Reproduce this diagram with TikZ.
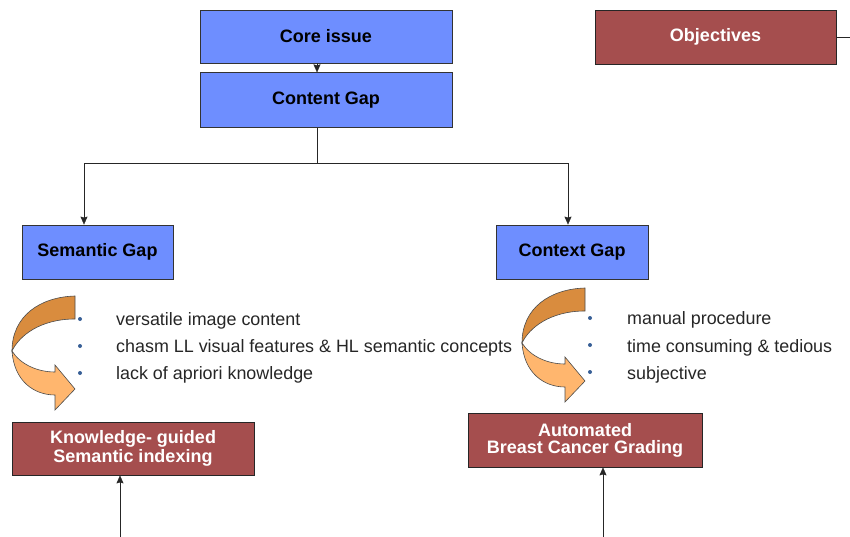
\documentclass[tikz,border=0pt]{standalone}
\usepackage{fontspec}
\setmainfont{Liberation Sans}
\usetikzlibrary{positioning,arrows.meta}
\definecolor{gapblue}{RGB}{110,142,255}
\definecolor{goalred}{RGB}{165,78,78}
\definecolor{turndark}{RGB}{217,140,62}
\definecolor{turnlight}{RGB}{255,182,110}
\definecolor{dotblue}{RGB}{55,95,150}

\begin{document}
\begin{tikzpicture}[%
		x=1pt, y=-1pt,
		>={Stealth[length=8pt,width=7pt,inset=1pt]},
		gapbox/.style={%
			draw=black!80,
			fill=gapblue,
			line width=0.8pt,
			inner sep=0pt,
			font=\fontsize{18}{19}\selectfont\bfseries
		},
		goalbox/.style={%
			draw=black!85,
			fill=goalred,
			text=white,
			line width=0.8pt,
			inner sep=0pt,
			align=center,
			font=\fontsize{18}{19}\selectfont\bfseries
		},
		bulletdot/.style={%
			circle,
			fill=dotblue,
			inner sep=0pt,
			minimum size=4pt
		},
		itemtext/.style={%
			anchor=base west,
			inner sep=0pt,
			text=black!85,
			font=\fontsize{17.9}{19}\selectfont
		},
		turnback/.style={fill=turndark, draw=black!70, line width=0.6pt},
		turnfront/.style={fill=turnlight, draw=black!70, line width=0.6pt}
		]
		\useasboundingbox (0,0) rectangle (850,537);
		
		% top boxes
		\node[gapbox, minimum width=252pt, minimum height=53pt] (core) at (326,36.5) {Core issue};
		\node[gapbox, minimum width=252pt, minimum height=55pt] (content) [below=9pt of core] {Content Gap};
		\node[goalbox, minimum width=241pt, minimum height=54pt] (objectives) at (715.5,37) {Objectives};
		\coordinate (objout) at (850,37);
		
		% the two gaps
		\node[gapbox, minimum width=151pt, minimum height=54pt] (semantic) at (97.5,252) {Semantic Gap};
		\node[gapbox, minimum width=152pt, minimum height=54pt] (context) at (572,252) {Context Gap};
		
		% bullet lists
		\node[bulletdot] (sb1) at (80,319) {};
		\node[bulletdot] (sb2) at (80,346) {};
		\node[bulletdot] (sb3) at (80,373) {};
		\node[itemtext] (st1) at (116,325) {versatile image content};
		\node[itemtext] (st2) at (116,352) {chasm LL visual features \& HL semantic concepts};
		\node[itemtext] (st3) at (116,379) {lack of apriori knowledge};
		
		\node[bulletdot] (cb1) at (590,318) {};
		\node[bulletdot] (cb2) at (590,345) {};
		\node[bulletdot] (cb3) at (590,372) {};
		\node[itemtext] (ct1) at (627,324) {manual procedure};
		\node[itemtext] (ct2) at (627,352) {time consuming \& tedious};
		\node[itemtext] (ct3) at (627,379) {subjective};
		
		% turning arrows
		\foreach \dx/\dy in {0/0, 510/-8} {
			\begin{scope}[shift={(\dx,\dy)}]
				\draw[turnback] (75,296) .. controls (40,297) and (12,316) .. (12,351)
					.. controls (19,336) and (40,319) .. (75,319) -- cycle;
				\draw[turnfront] (12,351) .. controls (14,381) and (34,395) .. (55,395)
					-- (55,410) -- (75,389) -- (55,365) -- (55,372)
					.. controls (37,372) and (20,364) .. (12,351) -- cycle;
			\end{scope}
		}
		
		% objectives
		\node[goalbox, minimum width=242pt, minimum height=53pt] (knowledge) at (133,448.5) {Knowledge- guided\\Semantic indexing};
		\node[goalbox, minimum width=234pt, minimum height=54pt] (automated) at (585,440) {Automated\\[-2pt]Breast Cancer Grading};
		\coordinate (kin) at (120,537);
		\coordinate (ain) at (603,537);
		
		\draw[->, black!85] ([xshift=-9pt]core.south) -- ([xshift=-9pt]content.north);
		\draw[->, black!85] ([xshift=-9pt]content.south) -- ++(0,35) -| ([xshift=-13.5pt]semantic.north);
		\draw[->, black!85] ([xshift=-9pt]content.south) -- ++(0,35) -| ([xshift=-4pt]context.north);
		\draw[black!85] (objectives.east) -- (objout);
		\draw[->, black!85] (kin) -- (kin |- knowledge.south);
		\draw[->, black!85] (ain) -- (ain |- automated.south);
\end{tikzpicture}
\end{document}
